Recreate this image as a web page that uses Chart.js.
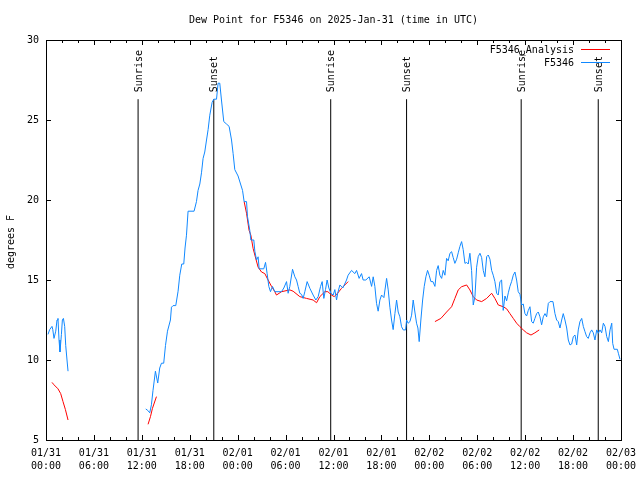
<!DOCTYPE html>
<html>
<head>
<meta charset="utf-8">
<script src="https://cdn.jsdelivr.net/npm/chart.js@4.4.1/dist/chart.umd.min.js"></script>
<style>html,body{margin:0;padding:0;background:#fff}</style>
</head>
<body>
<canvas id="chart" width="640" height="480"></canvas>
<script>
// hours since 01/31 00:00 UTC
const stationTimesA = [0.25, 0.46, 0.75, 0.85, 1.0, 1.22, 1.38, 1.5, 1.63, 1.75, 1.93, 2.05, 2.18, 2.34, 2.47, 2.63, 2.76];
const stationValuesA = [11.6, 11.9, 12.1, 11.9, 11.35, 11.8, 12.5, 12.6, 11.25, 10.5, 11.6, 12.5, 12.6, 12.1, 10.9, 10.0, 9.3];

const stationTimesB = [
    12.49, 12.74, 12.99, 13.2, 13.4, 13.7, 13.99, 14.24, 14.46, 14.74, 14.96, 15.21, 15.58, 15.71, 15.91, 16.25,
    16.54, 16.75, 17.0, 17.25, 17.41, 17.59, 17.79, 18.54, 18.84, 19.04, 19.26, 19.47, 19.67, 19.88, 20.1, 20.3,
    20.51, 20.8, 21.01, 21.35, 21.55, 21.76, 21.97, 22.26, 22.6, 22.93, 23.23, 23.43, 23.64, 24.05, 24.36, 24.61,
    24.81, 25.11, 25.23, 25.52, 25.65, 26.02, 26.15, 26.36, 26.56, 26.69, 27.27, 27.49, 27.69, 27.9, 28.11, 28.36,
    28.65, 29.49, 29.78, 30.12, 30.32, 30.53, 30.87, 31.16, 31.37, 31.57, 31.78, 32.0, 32.2, 32.41, 32.7, 33.04,
    33.45, 33.79, 34.08, 34.38, 34.58, 34.79, 35.0, 35.2, 35.42, 35.67, 35.96, 36.17, 36.38, 36.54, 36.8, 37.17,
    37.63, 37.83, 38.26, 38.67, 38.89, 39.21, 39.51, 39.71, 40.05, 40.47, 40.77, 40.97, 41.18, 41.39, 41.59, 41.81,
    42.02, 42.31, 42.65, 42.85, 43.06, 43.27, 43.47, 43.69, 43.9, 44.1, 44.31, 44.52, 44.73, 45.03, 45.15, 45.35,
    45.57, 45.78, 45.98, 46.19, 46.4, 46.57, 46.73, 46.94, 47.16, 47.36, 47.57, 47.78, 47.98, 48.2, 48.45, 48.7,
    48.91, 49.11, 49.32, 49.54, 49.74, 49.95, 50.16, 50.36, 50.58, 50.79, 50.99, 51.2, 51.42, 51.62, 51.83, 52.04,
    52.24, 52.46, 52.67, 52.87, 53.08, 53.29, 53.5, 53.71, 53.92, 54.12, 54.34, 54.55, 54.75, 54.96, 55.18, 55.38,
    55.59, 55.8, 56.0, 56.21, 56.43, 56.63, 56.84, 57.05, 57.25, 57.47, 57.68, 57.89, 58.09, 58.3, 58.51, 58.72,
    58.93, 59.13, 59.35, 59.56, 59.76, 59.97, 60.18, 60.39, 60.6, 60.81, 61.01, 61.22, 61.44, 61.64, 61.85, 62.06,
    62.27, 62.48, 62.69, 62.9, 63.11, 63.48, 63.73, 63.94, 64.14, 64.36, 64.57, 64.77, 64.98, 65.2, 65.4, 65.61,
    65.82, 66.03, 66.24, 66.45, 66.65, 66.86, 67.08, 67.28, 67.49, 67.7, 67.9, 68.12, 68.33, 68.53, 68.74, 68.96,
    69.16, 69.37, 69.58, 69.79, 70.0, 70.21, 70.42, 70.63, 70.84, 70.96, 71.13, 71.54, 71.67, 71.88
];
const stationValuesB = [
    6.94, 6.85, 6.7, 7.2, 8.1, 9.3, 8.56, 9.5, 9.8, 9.8, 10.9, 11.8, 12.5, 13.3, 13.4, 13.4,
    14.3, 15.3, 16.0, 16.0, 17.0, 17.8, 19.3, 19.3, 19.9, 20.6, 21.0, 21.7, 22.6, 23.0, 23.75, 24.4,
    25.3, 26.1, 26.3, 26.3, 27.3, 27.3, 26.25, 24.9, 24.75, 24.6, 23.75, 22.9, 21.9, 21.5, 21.0, 20.6,
    19.9, 19.9, 18.96, 18.1, 17.5, 17.5, 16.8, 16.25, 16.45, 15.7, 15.7, 16.1, 15.4, 14.6, 14.27, 14.6,
    14.27, 14.27, 14.5, 14.9, 14.17, 14.6, 15.67, 15.2, 15.0, 14.6, 14.17, 14.1, 13.85, 14.27, 14.9, 14.48,
    14.06, 13.75, 13.96, 14.6, 14.9, 13.85, 14.4, 15.0, 14.5, 14.17, 14.06, 14.4, 13.75, 14.2, 14.69, 14.5,
    15.0, 15.3, 15.6, 15.4, 15.6, 15.1, 15.4, 15.0, 15.0, 15.2, 14.6, 15.2, 14.6, 13.54, 13.05, 13.75,
    14.06, 13.9, 15.1, 14.38, 13.3, 12.5, 11.9, 12.9, 13.75, 13.0, 12.7, 12.08, 11.88, 11.88, 12.5, 12.3,
    12.4, 12.8, 13.75, 13.0, 12.3, 12.0, 11.15, 12.5, 13.75, 14.6, 15.2, 15.6, 15.3, 14.9, 14.9, 14.6,
    15.6, 15.9, 15.3, 15.1, 15.6, 15.3, 16.35, 16.2, 16.67, 16.77, 16.4, 16.04, 16.3, 16.7, 17.1, 17.4,
    16.9, 16.04, 16.1, 16.0, 16.67, 15.6, 13.44, 13.96, 15.8, 16.46, 16.67, 16.4, 15.6, 15.2, 16.46, 16.56,
    16.3, 15.6, 15.3, 14.9, 14.17, 14.06, 14.9, 15.0, 13.1, 14.0, 13.7, 14.2, 14.6, 14.9, 15.3, 15.5,
    15.0, 14.27, 14.1, 13.44, 13.5, 12.9, 12.75, 13.1, 13.33, 12.4, 12.3, 12.6, 12.9, 13.0, 12.7, 12.2,
    12.7, 12.9, 12.7, 13.54, 13.65, 13.65, 12.9, 12.5, 12.4, 12.0, 12.5, 12.9, 12.5, 12.0, 11.25, 10.94,
    11.0, 11.46, 11.56, 10.94, 11.88, 12.4, 12.6, 12.1, 11.77, 11.46, 11.35, 11.7, 11.88, 11.7, 11.25, 11.88,
    11.67, 11.88, 11.7, 12.3, 12.1, 11.46, 11.15, 11.88, 12.3, 11.04, 10.67, 10.67, 10.42, 10.04
];

const analysisTimesA = [0.75, 1.0, 1.5, 1.84, 2.13, 2.43, 2.76];
const analysisValuesA = [8.6, 8.45, 8.2, 7.9, 7.4, 6.9, 6.25];
const analysisTimesB = [12.78, 13.08, 13.33, 13.83];
const analysisValuesB = [5.98, 6.46, 6.98, 7.71];
const analysisTimesC = [24.81, 25.11, 25.43, 25.65, 25.93, 26.15, 26.56, 26.99, 27.4, 27.81, 28.24, 28.65, 28.86, 29.49, 30.53,
    30.94, 31.78, 32.62, 33.45, 33.88, 34.29, 34.92, 35.29, 35.76, 36.08, 36.51, 37.01, 37.42, 37.84];
const analysisValuesC = [19.9, 19.17, 18.1, 17.8, 16.98, 16.56, 15.8, 15.5, 15.4, 15.0, 14.6, 14.27, 14.06, 14.27, 14.38,
    14.3, 13.96, 13.85, 13.75, 13.58, 13.96, 14.27, 14.27, 14.06, 13.96, 14.17, 14.48, 14.69, 14.9];
const analysisTimesD = [48.7, 49.45, 50.16, 50.79, 51.2, 51.62, 52.04, 52.67, 53.08, 53.5, 53.92, 54.55, 55.18, 55.8, 56.21,
    56.63, 57.25, 57.68, 58.09, 58.51, 58.93, 59.35, 59.76, 60.18, 60.73, 61.22, 61.76];
const analysisValuesD = [12.4, 12.6, 13.0, 13.33, 13.85, 14.38, 14.58, 14.69, 14.38, 13.96, 13.75, 13.65, 13.85, 14.17, 13.85,
    13.44, 13.33, 13.2, 12.9, 12.6, 12.3, 12.08, 11.88, 11.7, 11.56, 11.7, 11.88];

const eventTimes = [11.53, 21.01, 35.65, 45.15, 59.5, 69.15];
const eventLabels = ['Sunrise', 'Sunset', 'Sunrise', 'Sunset', 'Sunrise', 'Sunset'];
const eventTop = 26.3;

const xTickDates = ['01/31', '01/31', '01/31', '01/31', '02/01', '02/01', '02/01', '02/01', '02/02', '02/02', '02/02', '02/02', '02/03'];
const xTickTimes = ['00:00', '06:00', '12:00', '18:00', '00:00', '06:00', '12:00', '18:00', '00:00', '06:00', '12:00', '18:00', '00:00'];

const FONT = 'DejaVu Sans Mono';
const STATION_COLOR = 'rgb(16, 136, 255)';
const ANALYSIS_COLOR = 'rgb(255, 0, 0)';

function toPoints(segments) {
    const pts = [];
    segments.forEach(([times, values], i) => {
        if (i > 0) pts.push({ x: times[0], y: null });
        times.forEach((t, j) => pts.push({ x: t, y: values[j] }));
    });
    return pts;
}

const eventPoints = eventTimes.flatMap(t => [{ x: t, y: 5 }, { x: t, y: eventTop }, { x: t, y: null }]);

// gnuplot style frame, inward ticks, title and text labels
const gnuplotDecor = {
    id: 'gnuplotDecor',
    afterDraw(chart) {
        const { ctx, chartArea: a, scales: { x, y } } = chart;
        ctx.save();
        ctx.strokeStyle = '#000';
        ctx.lineWidth = 1;
        ctx.strokeRect(a.left + 0.5, a.top + 0.5, a.right - a.left, a.bottom - a.top);

        ctx.beginPath();
        for (let h = 0; h <= 72; h += 2) {
            const px = Math.round(x.getPixelForValue(h)) + 0.5;
            const len = h % 6 === 0 ? 5 : 3;
            ctx.moveTo(px, a.bottom);
            ctx.lineTo(px, a.bottom - len);
            ctx.moveTo(px, a.top);
            ctx.lineTo(px, a.top + len);
        }
        for (let v = 5; v <= 30; v += 5) {
            const py = Math.round(y.getPixelForValue(v)) + 0.5;
            ctx.moveTo(a.left, py);
            ctx.lineTo(a.left + 5, py);
            ctx.moveTo(a.right, py);
            ctx.lineTo(a.right - 5, py);
        }
        ctx.stroke();

        ctx.fillStyle = '#000';
        ctx.font = `10px "${FONT}"`;
        ctx.textBaseline = 'middle';
        ctx.textAlign = 'center';
        ctx.fillText('Dew Point for F5346 on 2025-Jan-31 (time in UTC)', (a.left + a.right) / 2, 20);

        ctx.save();
        ctx.translate(11, 242);
        ctx.rotate(-Math.PI / 2);
        ctx.fillText('degrees F', 0, 0);
        ctx.restore();

        eventTimes.forEach((t, i) => {
            ctx.save();
            ctx.translate(x.getPixelForValue(t), y.getPixelForValue(eventTop) - 7);
            ctx.rotate(-Math.PI / 2);
            ctx.textAlign = 'left';
            ctx.fillText(eventLabels[i], 0, 1);
            ctx.restore();
        });

        // legend
        const rows = [['F5346_Analysis', ANALYSIS_COLOR, 49], ['F5346', STATION_COLOR, 62]];
        ctx.textAlign = 'right';
        rows.forEach(([label, color, ry]) => {
            ctx.fillStyle = '#000';
            ctx.fillText(label, 574, ry + 1);
            ctx.strokeStyle = color;
            ctx.beginPath();
            ctx.moveTo(581, ry + 0.5);
            ctx.lineTo(610, ry + 0.5);
            ctx.stroke();
        });
        ctx.restore();
    }
};

const tickFont = { family: FONT, size: 10, lineHeight: 1.3 };

new Chart(document.getElementById('chart'), {
    type: 'line',
    data: {
        datasets: [
            {
                label: 'F5346',
                data: toPoints([[stationTimesA, stationValuesA], [stationTimesB, stationValuesB]]),
                borderColor: STATION_COLOR,
                borderWidth: 1,
                pointRadius: 0,
                spanGaps: false,
                order: 0
            },
            {
                label: 'F5346_Analysis',
                data: toPoints([[analysisTimesA, analysisValuesA], [analysisTimesB, analysisValuesB],
                    [analysisTimesC, analysisValuesC], [analysisTimesD, analysisValuesD]]),
                borderColor: ANALYSIS_COLOR,
                borderWidth: 1,
                pointRadius: 0,
                spanGaps: false,
                order: 1
            },
            {
                label: 'events',
                data: eventPoints,
                borderColor: '#000',
                borderWidth: 1,
                pointRadius: 0,
                spanGaps: false,
                order: 2
            }
        ]
    },
    options: {
        responsive: false,
        devicePixelRatio: 1,
        animation: false,
        layout: { padding: { top: 40, right: 19, left: 0, bottom: 0 } },
        scales: {
            x: {
                type: 'linear',
                min: 0,
                max: 72,
                grid: { display: false, drawTicks: false },
                border: { display: false },
                ticks: {
                    stepSize: 6,
                    autoSkip: false,
                    maxRotation: 0,
                    padding: 7,
                    color: '#000',
                    font: tickFont,
                    callback: function(value) {
                        const i = Math.round(value / 6);
                        return [xTickDates[i], xTickTimes[i]];
                    }
                },
                afterFit: scale => {
                    scale.height = 40;
                    scale.paddingLeft = 0;
                    scale.paddingRight = 0;
                }
            },
            y: {
                min: 5,
                max: 30,
                grid: { display: false, drawTicks: false },
                border: { display: false },
                ticks: {
                    stepSize: 5,
                    padding: 7,
                    color: '#000',
                    font: tickFont
                },
                afterFit: scale => {
                    scale.width = 46;
                    scale.paddingTop = 0;
                    scale.paddingBottom = 0;
                }
            }
        },
        plugins: {
            legend: { display: false },
            tooltip: { enabled: false },
            title: { display: false }
        }
    },
    plugins: [gnuplotDecor]
});
</script>
</body>
</html>
